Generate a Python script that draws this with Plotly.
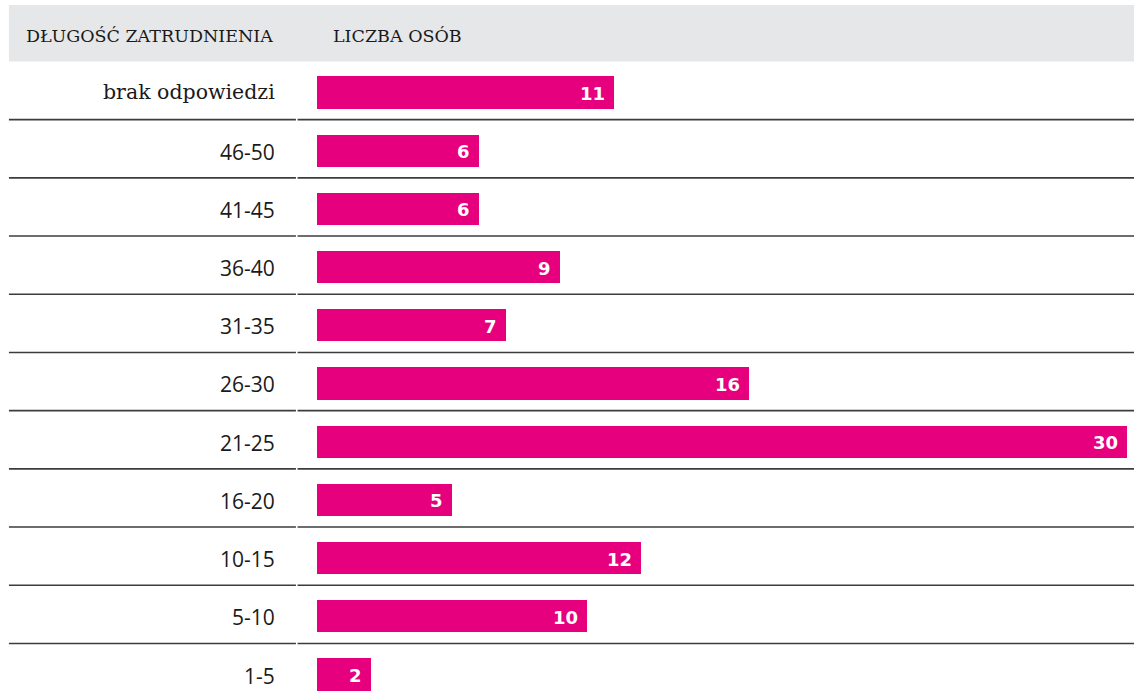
import plotly.graph_objects as go

# Employment length groups (top to bottom) and number of people in each
categories = ["brak odpowiedzi", "46-50", "41-45", "36-40", "31-35", "26-30",
              "21-25", "16-20", "10-15", "5-10", "1-5"]
counts = [11, 6, 6, 9, 7, 16, 30, 5, 12, 10, 2]

header_left = "DŁUGOŚĆ ZATRUDNIENIA"
header_right = "LICZBA OSÓB"

BAR_COLOR = "#e6007e"
HEADER_BG = "#e6e7e8"
RULE_COLOR = "#3c3c3c"
SERIF = "DejaVu Serif"
SANS = "Open Sans"

fig = go.Figure()

fig.add_trace(go.Bar(
    x=counts,
    y=categories,
    orientation="h",
    marker=dict(color=BAR_COLOR, line=dict(width=0)),
    width=0.556,
    hoverinfo="skip",
))

# Value labels inside the bar ends
for cat, val in zip(categories, counts):
    fig.add_annotation(
        x=val, y=cat, text=f"<b>{val}</b>", showarrow=False,
        xanchor="right", yanchor="middle", xshift=-7, yshift=-1,
        font=dict(family="DejaVu Sans", size=18, color="white"),
    )

# Row labels, right aligned next to the bars
for cat in categories:
    is_text = not cat[0].isdigit()
    fig.add_annotation(
        x=-1.5, y=cat, text=cat, showarrow=False,
        xanchor="right", yanchor="middle", yshift=0 if is_text else -1,
        font=dict(family=SERIF if is_text else SANS, size=20.5 if is_text else 21,
                  color="#1a1a1a"),
    )

# Grey header band with column titles
fig.add_shape(type="rect", xref="x", yref="y", x0=-11.41, x1=30.3,
              y0=-1.503, y1=-0.533, fillcolor=HEADER_BG, line=dict(width=0),
              layer="below")
fig.add_annotation(x=-10.85, y=-1.0, text=header_left, showarrow=False,
                   xanchor="left", yanchor="middle", yshift=-2,
                   font=dict(family=SERIF, size=17.5, color="#1a1a1a"))
fig.add_annotation(x=0.519, y=-1.0, text=header_right, showarrow=False,
                   xanchor="left", yanchor="middle", yshift=-2,
                   font=dict(family=SERIF, size=17.5, color="#1a1a1a"))

# Horizontal rules between rows (split into label and bar columns)
for i in range(len(categories) - 1):
    yv = i + 0.467
    fig.add_shape(type="line", xref="x", yref="y", x0=-11.41, x1=-0.78,
                  y0=yv, y1=yv, line=dict(color=RULE_COLOR, width=1.6))
    fig.add_shape(type="line", xref="x", yref="y", x0=-0.72, x1=30.3,
                  y0=yv, y1=yv, line=dict(color=RULE_COLOR, width=1.6))

fig.update_layout(
    width=1134, height=699,
    margin=dict(l=0, r=0, t=0, b=0, pad=0),
    paper_bgcolor="white", plot_bgcolor="white",
    showlegend=False,
    bargap=0,
    xaxis=dict(range=[-317 / 27, (1134 - 317) / 27], visible=False,
               fixedrange=True),
    yaxis=dict(type="category", categoryorder="array", categoryarray=categories,
               range=[10.421, -1.589], visible=False, fixedrange=True),
)

fig.write_html("out.html", config={"displayModeBar": False})
